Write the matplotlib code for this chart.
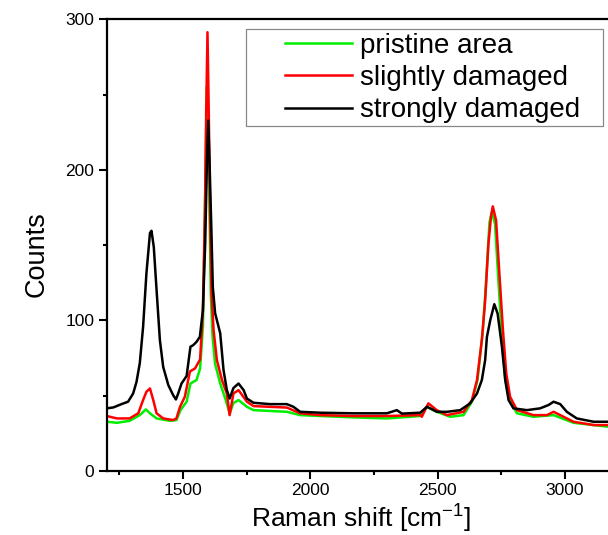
import matplotlib
matplotlib.use("Agg")
import matplotlib.pyplot as plt
from matplotlib.patches import Rectangle
from matplotlib.ticker import MultipleLocator

plt.rcParams['font.family'] = ['Liberation Sans', 'DejaVu Sans']
plt.rcParams['mathtext.fontset'] = 'custom'
plt.rcParams['mathtext.rm'] = 'Liberation Sans'

# --- datos ---
pristine_x = [1200, 1240, 1290, 1330, 1354, 1370, 1396, 1448, 1474, 1490, 1514, 1529, 1553, 1567,
              1578, 1584, 1590, 1594, 1599, 1604, 1609, 1616, 1626, 1646, 1666, 1683, 1698, 1718,
              1751, 1777, 1908, 1960, 2039, 2170, 2301, 2432, 2458, 2497, 2550, 2602, 2635, 2657,
              2678, 2691, 2704, 2713, 2726, 2739, 2753, 2766, 2783, 2812, 2877, 2956, 3034, 3170]
pristine_y = [32.6, 31.9, 33.2, 37, 40.8, 38.2, 34.8, 33.2, 33.7, 40.3, 45.9, 58, 60.3, 68,
              95.6, 151, 217, 255, 228, 173, 118, 89, 71, 58, 48, 38, 45, 47,
              42.5, 40.3, 39.2, 37, 36.4, 35.5, 34.8, 36.4, 42.5, 39.2, 35.9, 37, 45.9, 60.3,
              93.4, 126.6, 165, 172, 164, 126.6, 89, 60.3, 47, 38.2, 35.9, 37, 31.9, 29.3]

slight_x = [1200, 1240, 1290, 1324, 1343, 1356, 1370, 1383, 1396, 1422, 1461, 1474, 1488, 1507,
            1527, 1547, 1567, 1578, 1586, 1591, 1596, 1601, 1607, 1612, 1620, 1633, 1653, 1672,
            1683, 1698, 1718, 1751, 1777, 1908, 1960, 2039, 2170, 2301, 2432, 2438, 2464, 2497,
            2537, 2602, 2635, 2655, 2674, 2687, 2700, 2710, 2717, 2730, 2743, 2757, 2770, 2785,
            2812, 2877, 2930, 2956, 2982, 3034, 3113, 3170]
slight_y = [36.4, 34.8, 34.8, 38.2, 47, 52.5, 54.7, 47, 38.2, 34.8, 33.7, 34.8, 42.5, 49.2,
            66, 68, 74, 106.7, 173, 239, 291.4, 239, 162, 118, 93.4, 73.5, 60.3, 51.4,
            37, 51.4, 53.6, 45.9, 43, 42, 38.2, 37, 36.4, 36.4, 37, 35.9, 44.8, 40.3,
            37, 39.2, 47, 60.3, 86.8, 113, 151, 168.6, 175.7, 166.4, 131, 93.4, 64.7, 49.2,
            40.3, 37, 37, 39.2, 37, 32.6, 30.4, 30.4]

strong_x = [1200, 1226, 1258, 1284, 1304, 1317, 1330, 1343, 1356, 1370, 1376, 1385, 1396, 1409,
            1422, 1442, 1461, 1472, 1481, 1494, 1514, 1529, 1540, 1553, 1566, 1578, 1587, 1594,
            1599, 1604, 1611, 1617, 1626, 1646, 1659, 1672, 1683, 1698, 1718, 1738, 1751, 1777,
            1842, 1908, 1934, 1960, 2039, 2170, 2301, 2340, 2360, 2432, 2458, 2471, 2497, 2537,
            2589, 2628, 2655, 2674, 2687, 2694, 2707, 2723, 2736, 2753, 2766, 2779, 2798, 2851,
            2903, 2936, 2956, 2982, 3008, 3047, 3113, 3170]
strong_y = [41.5, 42.1, 44.3, 45.9, 51.4, 59, 71.5, 95.6, 131, 158, 159.5, 148.7, 120, 86.8,
            69, 57, 50.3, 47.4, 51.4, 58, 63, 82.4, 83.5, 85.7, 89, 106.7, 151, 206,
            232.7, 206, 162, 122, 104.7, 91.4, 67, 53.7, 48, 55, 58, 53.6, 48, 45.2,
            44.3, 44.3, 42.5, 39.2, 38.6, 38.2, 38.2, 40.3, 38, 38.6, 42.5, 41.5, 39.2, 39.2,
            40.3, 44.8, 51.4, 60.3, 73.5, 89, 100, 110.7, 104.5, 82.4, 60.3, 47, 41.5, 40.3,
            41.5, 43.7, 45.9, 44.3, 39.2, 34.8, 32.6, 32.6]

series_labels = ['pristine area', 'slightly damaged', 'strongly damaged']
series_colors = ['#00ee00', '#ff0000', '#000000']

fig = plt.figure(figsize=(6.08, 5.35), dpi=100)
W, H = 608, 535
# el eje derecho queda fuera de la imagen (recortado como en el original)
ax = fig.add_axes([106.7 / W, (H - 470.8) / H, 509 / W, 451.5 / H])

datos = [(pristine_x, pristine_y), (slight_x, slight_y), (strong_x, strong_y)]
lineas = []
for (xs, ys), lab, col in zip(datos, series_labels, series_colors):
    l, = ax.plot(xs, ys, color=col, lw=1.8, label=lab)
    lineas.append(l)

ax.set_xlim(1200, 3200)
ax.set_ylim(0, 300)
ax.xaxis.set_major_locator(MultipleLocator(500))
ax.xaxis.set_minor_locator(MultipleLocator(250))
ax.yaxis.set_major_locator(MultipleLocator(100))
ax.yaxis.set_minor_locator(MultipleLocator(50))
ax.tick_params(which='major', direction='out', length=6, width=1.5, labelsize=12.5, pad=3)
ax.tick_params(which='minor', direction='out', length=3, width=1.5)
for s in ax.spines.values():
    s.set_linewidth(1.6)

ax.set_xlabel('Raman shift [cm$^{-1}$]', fontsize=19, labelpad=2)
ax.set_ylabel('Counts', fontsize=19.5)
ax.yaxis.set_label_coords(-0.112, 0.48)

leg = ax.legend(handles=lineas, loc='upper left', bbox_to_anchor=(285 / W, 1 - 33 / H),
                bbox_transform=fig.transFigure, frameon=False, fontsize=20,
                handlelength=2.4, handletextpad=0.3, labelspacing=0.22, borderpad=0,
                borderaxespad=0)
for l in leg.get_lines():
    l.set_linewidth(1.8)

# marco de la leyenda
fig.patches.append(Rectangle((246 / W, 1 - 126 / H), (603 - 246) / W, (126 - 29) / H,
                             transform=fig.transFigure, fill=False, edgecolor='#888888',
                             lw=0.9))

fig.savefig('out.png', dpi=100)
